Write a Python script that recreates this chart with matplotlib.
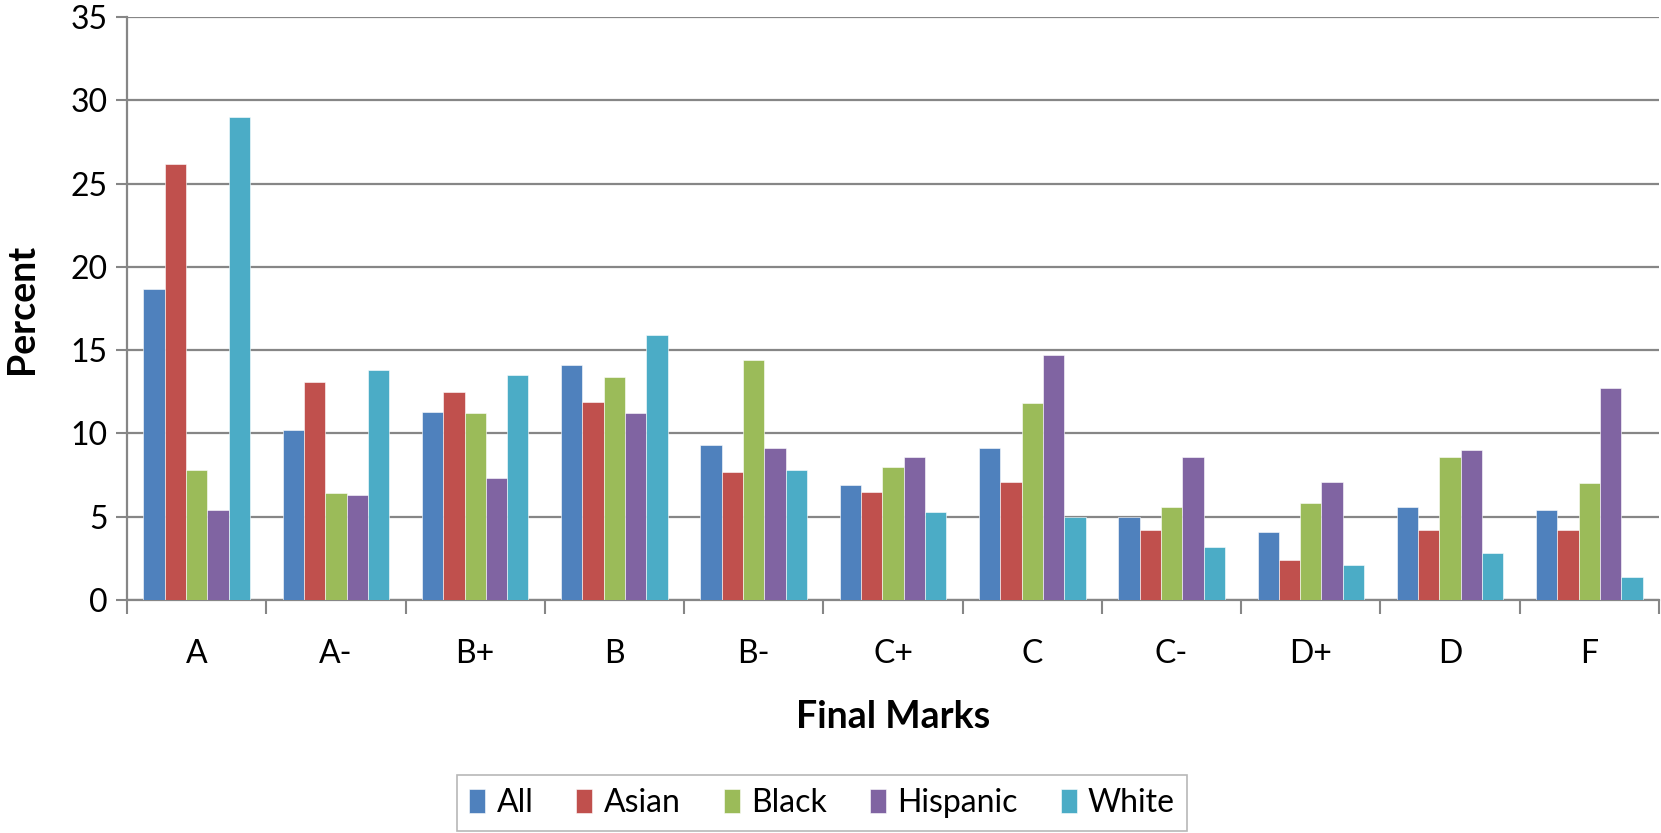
import numpy as np
import matplotlib.pyplot as plt
from matplotlib.ticker import MultipleLocator, FixedLocator

# Data
marks = ["A", "A-", "B+", "B", "B-", "C+", "C", "C-", "D+", "D", "F"]
groups = ["All", "Asian", "Black", "Hispanic", "White"]
all_pct = [18.7, 10.2, 11.3, 14.1, 9.3, 6.9, 9.1, 5.0, 4.1, 5.6, 5.4]
asian_pct = [26.2, 13.1, 12.5, 11.9, 7.7, 6.5, 7.1, 4.2, 2.4, 4.2, 4.2]
black_pct = [7.8, 6.4, 11.2, 13.4, 14.4, 8.0, 11.8, 5.6, 5.8, 8.6, 7.0]
hispanic_pct = [5.4, 6.3, 7.3, 11.2, 9.1, 8.6, 14.7, 8.6, 7.1, 9.0, 12.7]
white_pct = [29.0, 13.8, 13.5, 15.9, 7.8, 5.3, 5.0, 3.2, 2.1, 2.8, 1.4]

series = [all_pct, asian_pct, black_pct, hispanic_pct, white_pct]
colours = ["#4F81BD", "#C0504D", "#9BBB59", "#8064A2", "#4BACC6"]

plt.rcParams['font.family'] = ['Lato', 'DejaVu Sans']
grid_col = "#868686"

fig = plt.figure(figsize=(16.61, 8.33), dpi=100)
ax = fig.add_axes([127 / 1661, 1 - 600 / 833, (1659 - 127) / 1661, (600 - 17) / 833])

x = np.arange(len(marks))
width = 0.153
for i, (vals, col, name) in enumerate(zip(series, colours, groups)):
    ax.bar(x + (i - 2) * width, vals, width, color=col, label=name,
           edgecolor="white", linewidth=0.4, zorder=3)

ax.set_xlim(-0.5, len(marks) - 0.5)
ax.set_ylim(0, 35)
ax.yaxis.set_major_locator(MultipleLocator(5))
ax.grid(axis="y", color=grid_col, linewidth=1.6, zorder=0)

ax.set_xticks(x)
ax.set_xticklabels(marks)
ax.xaxis.set_minor_locator(FixedLocator(np.arange(-0.5, len(marks), 1.0)))
ax.tick_params(axis="x", which="major", length=0, pad=28, labelsize=23)
ax.tick_params(axis="x", which="minor", length=10, width=1.5, color=grid_col, direction="out")
ax.tick_params(axis="y", length=8, width=1.5, color=grid_col, direction="out", labelsize=23, pad=6)

for side in ["top", "right"]:
    ax.spines[side].set_visible(False)
for side in ["left", "bottom"]:
    ax.spines[side].set_color(grid_col)
    ax.spines[side].set_linewidth(1.6)

ax.set_ylabel("Percent", fontsize=27, fontweight="bold")
ax.yaxis.set_label_coords(-88 / 1532, 0.5)
ax.set_xlabel("Final Marks", fontsize=27, fontweight="bold")
ax.xaxis.set_label_coords(0.5, -100 / 583)

leg = fig.legend(loc="center", bbox_to_anchor=(822 / 1661, 1 - 803 / 833), ncol=5,
                 fontsize=23, frameon=True, fancybox=False, handlelength=0.5,
                 handleheight=0.8, handletextpad=0.35, columnspacing=1.35,
                 borderpad=0.4)
leg.get_frame().set_edgecolor("#A6A6A6")
leg.get_frame().set_linewidth(1.2)

fig.savefig("out.png", dpi=100)
